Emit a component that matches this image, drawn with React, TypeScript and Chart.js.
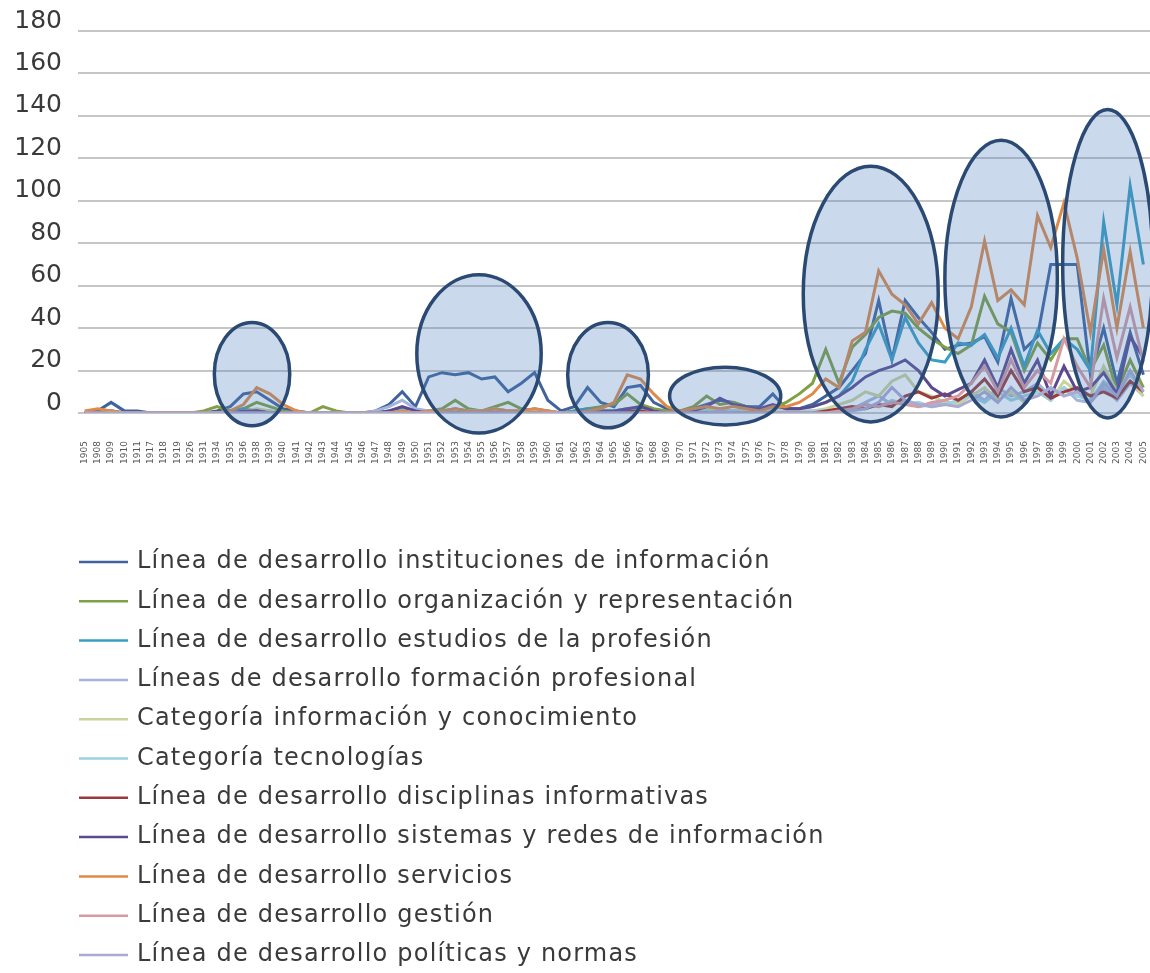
import React, { useEffect, useRef } from "react";
import { Chart, registerables } from "chart.js";

Chart.register(...registerables);

const years = [
  "1905", "1908", "1909", "1910", "1911", "1917", "1918", "1919", "1926", "1931",
  "1934", "1935", "1936", "1938", "1939", "1940", "1941", "1942", "1943", "1944",
  "1945", "1946", "1947", "1948", "1949", "1950", "1951", "1952", "1953", "1954",
  "1955", "1956", "1957", "1958", "1959", "1960", "1961", "1962", "1963", "1964",
  "1965", "1966", "1967", "1968", "1969", "1970", "1971", "1972", "1973", "1974",
  "1975", "1976", "1977", "1978", "1979", "1980", "1981", "1982", "1983", "1984",
  "1985", "1986", "1987", "1988", "1989", "1990", "1991", "1992", "1993", "1994",
  "1995", "1996", "1997", "1998", "1999", "2000", "2001", "2002", "2003", "2004",
  "2005",
];

const instituciones = [
  0, 1, 5, 1, 1, 0, 0, 0, 0, 0,
  1, 3, 9, 10, 6, 2, 1, 0, 0, 0,
  0, 0, 1, 4, 10, 3, 17, 19, 18, 19,
  16, 17, 10, 14, 19, 6, 1, 3, 12, 5,
  3, 12, 13, 5, 2, 1, 2, 4, 6, 5,
  3, 3, 9, 2, 2, 4, 8, 12, 20, 28,
  53, 25, 53, 45, 38, 30, 32, 33, 36, 24,
  54, 30, 36, 70, 70, 70, 18, 40, 14, 38,
  18,
];

const organizacion = [
  0, 0, 1, 0, 0, 0, 0, 0, 0, 1,
  3, 1, 2, 5, 3, 1, 0, 0, 3, 1,
  0, 0, 0, 1, 2, 1, 1, 2, 6, 2,
  1, 3, 5, 2, 1, 1, 0, 1, 2, 3,
  4, 9, 4, 2, 1, 1, 3, 8, 4, 5,
  3, 2, 2, 5, 9, 14, 30, 14, 31, 37,
  45, 48, 47, 40, 35, 31, 28, 32, 55, 42,
  38, 20, 33, 25, 35, 35, 20, 32, 10, 25,
  12,
];

const estudios = [
  0, 0, 1, 0, 0, 0, 0, 0, 0, 0,
  0, 1, 2, 1, 1, 0, 0, 0, 0, 0,
  0, 0, 0, 1, 2, 1, 1, 1, 2, 1,
  1, 2, 1, 1, 2, 1, 0, 1, 2, 1,
  1, 2, 2, 1, 0, 1, 1, 2, 2, 1,
  1, 1, 2, 2, 2, 3, 5, 8, 15, 30,
  42, 25, 45, 33, 25, 24, 33, 32, 37, 26,
  40, 22, 39, 28, 35, 30, 20, 90, 51, 107,
  70,
];

const formacion = [
  0, 0, 0, 0, 0, 0, 0, 0, 0, 0,
  0, 0, 1, 1, 0, 0, 0, 0, 0, 0,
  0, 0, 1, 3, 6, 2, 1, 1, 1, 1,
  1, 1, 1, 1, 1, 1, 0, 0, 1, 1,
  1, 1, 1, 0, 0, 0, 1, 1, 2, 1,
  1, 1, 2, 1, 1, 1, 1, 1, 2, 5,
  8, 4, 6, 3, 4, 5, 5, 10, 6, 12,
  8, 10, 14, 8, 12, 6, 5, 12, 6, 14,
  8,
];

const informacion = [
  0, 0, 0, 0, 0, 0, 0, 0, 0, 0,
  0, 0, 1, 2, 1, 0, 0, 0, 0, 0,
  0, 0, 0, 0, 1, 0, 0, 0, 1, 1,
  1, 2, 1, 1, 1, 0, 0, 0, 1, 1,
  1, 2, 1, 1, 0, 0, 1, 2, 1, 1,
  1, 1, 1, 1, 1, 1, 2, 4, 6, 10,
  8, 15, 18, 10, 8, 5, 4, 8, 12, 6,
  10, 5, 10, 6, 15, 10, 8, 22, 10, 15,
  8,
];

const tecnologias = [
  0, 0, 0, 0, 0, 0, 0, 0, 0, 0,
  0, 0, 0, 0, 0, 0, 0, 0, 0, 0,
  0, 0, 0, 0, 1, 0, 0, 0, 0, 0,
  0, 0, 0, 0, 0, 0, 0, 0, 0, 0,
  0, 0, 0, 0, 0, 0, 0, 1, 0, 1,
  0, 0, 1, 1, 1, 1, 1, 1, 2, 4,
  3, 6, 4, 5, 3, 4, 6, 8, 5, 10,
  6, 8, 10, 6, 12, 8, 6, 15, 10, 18,
  10,
];

const disciplinas = [
  0, 0, 0, 0, 0, 0, 0, 0, 0, 0,
  0, 0, 0, 1, 0, 0, 0, 0, 0, 0,
  0, 0, 0, 0, 0, 0, 0, 0, 0, 0,
  0, 0, 0, 0, 0, 0, 0, 0, 0, 0,
  0, 1, 1, 0, 0, 0, 0, 0, 0, 0,
  0, 0, 0, 0, 0, 0, 1, 2, 3, 2,
  4, 3, 8, 10, 7, 9, 6, 10, 16, 8,
  20, 10, 12, 7, 10, 12, 8, 10, 7, 15,
  10,
];

const sistemas = [
  0, 0, 0, 0, 0, 0, 0, 0, 0, 0,
  0, 0, 1, 1, 0, 0, 0, 0, 0, 0,
  0, 0, 0, 1, 3, 1, 0, 0, 0, 0,
  0, 0, 0, 0, 0, 0, 0, 0, 1, 1,
  1, 2, 3, 1, 0, 0, 1, 3, 7, 4,
  3, 2, 4, 2, 2, 3, 5, 8, 12, 17,
  20, 22, 25, 20, 12, 8, 11, 14, 25, 12,
  30, 14, 25, 8, 22, 10, 12, 19, 9, 36,
  26,
];

const servicios = [
  1, 2, 1, 0, 0, 0, 0, 0, 0, 0,
  0, 1, 4, 12, 9, 4, 1, 0, 0, 0,
  0, 0, 0, 0, 1, 0, 1, 1, 2, 1,
  1, 2, 1, 1, 2, 1, 0, 0, 1, 2,
  5, 18, 16, 9, 3, 1, 2, 3, 2, 3,
  2, 1, 3, 3, 5, 9, 16, 12, 34, 38,
  67, 56, 51, 42, 52, 40, 35, 50, 81, 53,
  58, 51, 93, 78, 99, 73, 38, 77, 40, 76,
  40,
];

const gestion = [
  0, 0, 0, 0, 0, 0, 0, 0, 0, 0,
  0, 0, 0, 0, 0, 0, 0, 0, 0, 0,
  0, 0, 0, 0, 0, 0, 0, 0, 0, 0,
  0, 0, 0, 0, 0, 0, 0, 0, 0, 0,
  0, 0, 0, 0, 0, 0, 0, 0, 0, 0,
  0, 0, 0, 0, 0, 0, 0, 1, 2, 4,
  3, 5, 4, 3, 5, 6, 8, 14, 22, 10,
  25, 12, 20, 14, 35, 22, 12, 54, 26, 50,
  24,
];

const politicas = [
  0, 0, 0, 0, 0, 0, 0, 0, 0, 0,
  0, 0, 0, 0, 0, 0, 0, 0, 0, 0,
  0, 0, 0, 0, 0, 0, 0, 0, 0, 0,
  0, 0, 0, 0, 0, 0, 0, 0, 0, 0,
  0, 0, 0, 0, 0, 0, 0, 0, 1, 0,
  0, 0, 0, 0, 0, 0, 0, 0, 1, 2,
  5, 12, 6, 4, 3, 4, 3, 6, 10, 5,
  12, 6, 8, 12, 8, 10, 5, 14, 8, 20,
  10,
];

const seriesLabels = [
  "Línea de desarrollo instituciones de información",
  "Línea de desarrollo organización y representación",
  "Línea de desarrollo estudios de la profesión",
  "Líneas de desarrollo formación profesional",
  "Categoría información y conocimiento",
  "Categoría tecnologías",
  "Línea de desarrollo disciplinas informativas",
  "Línea de desarrollo sistemas y redes de información",
  "Línea de desarrollo servicios",
  "Línea de desarrollo gestión",
  "Línea de desarrollo políticas y normas",
];

const seriesValues = [
  instituciones, organizacion, estudios, formacion, informacion, tecnologias,
  disciplinas, sistemas, servicios, gestion, politicas,
];

const seriesColors = [
  "#40639e", "#7fa043", "#3a9dc2", "#a3b5dc", "#c9d49c", "#9dd0de",
  "#9a3b3d", "#5b4a8f", "#e08a47", "#d59ba2", "#a9aad3",
];

// highlighted periods (category index range, value range)
const highlightFrom = [9.8, 25.1, 36.5, 44.2, 54.3, 65.0, 73.9];
const highlightTo = [15.5, 34.5, 42.6, 52.6, 64.5, 73.5, 80.7];
const highlightLow = [-6, -9.4, -7, -5.6, -4.2, -1.9, -2.3];
const highlightHigh = [42.7, 65.2, 42.7, 21.6, 116.3, 128.5, 143];

const yTicks = [0, 20, 40, 60, 80, 100, 120, 140, 160, 180];

const W = 1150;
const H = 973;

const ellipsePlugin = {
  id: "highlights",
  afterDatasetsDraw(chart: any) {
    const { ctx, scales } = chart;
    const xs = scales.x;
    const ys = scales.y;
    ctx.save();
    for (let i = 0; i < highlightFrom.length; i++) {
      const x1 = xs.getPixelForValue(highlightFrom[i]);
      const x2 = xs.getPixelForValue(highlightTo[i]);
      const y1 = ys.getPixelForValue(highlightHigh[i]);
      const y2 = ys.getPixelForValue(highlightLow[i]);
      ctx.beginPath();
      ctx.ellipse((x1 + x2) / 2, (y1 + y2) / 2, Math.abs(x2 - x1) / 2, Math.abs(y2 - y1) / 2, 0, 0, Math.PI * 2);
      ctx.fillStyle = "rgba(79,129,189,0.30)";
      ctx.fill();
      ctx.lineWidth = 3.5;
      ctx.strokeStyle = "#2b4a73";
      ctx.stroke();
    }
    ctx.restore();
  },
};

const legendPlugin = {
  id: "listLegend",
  afterDraw(chart: any) {
    const { ctx } = chart;
    const top = 562;
    const step = 39.3;
    ctx.save();
    ctx.font = "24px 'DejaVu Sans'";
    (ctx as any).letterSpacing = "1.2px";
    ctx.textBaseline = "middle";
    ctx.textAlign = "left";
    seriesLabels.forEach((label, i) => {
      const y = top + i * step;
      ctx.beginPath();
      ctx.moveTo(79, y);
      ctx.lineTo(128, y);
      ctx.lineWidth = 2.5;
      ctx.strokeStyle = seriesColors[i];
      ctx.stroke();
      ctx.fillStyle = "#3a3a3a";
      ctx.fillText(label, 137, y);
    });
    ctx.restore();
  },
};

export default function App() {
  const ref = useRef<HTMLCanvasElement | null>(null);

  useEffect(() => {
    if (!ref.current) return;
    const chart = new Chart(ref.current, {
      type: "line",
      data: {
        labels: years,
        datasets: seriesValues.map((vals, i) => ({
          label: seriesLabels[i],
          data: vals,
          borderColor: seriesColors[i],
          backgroundColor: seriesColors[i],
          borderWidth: 3,
          pointRadius: 0,
          tension: 0,
          fill: false,
          order: -i,
        })),
      },
      options: {
        responsive: false,
        animation: false,
        layout: { padding: { top: 29, left: 0, right: 0, bottom: 0 } },
        plugins: {
          legend: { display: false },
          tooltip: { enabled: false },
        },
        scales: {
          x: {
            offset: true,
            grid: { display: false },
            border: { display: false },
            ticks: {
              autoSkip: false,
              maxRotation: 90,
              minRotation: 90,
              padding: 20,
              color: "#555",
              font: { family: "'DejaVu Sans'", size: 9 },
            },
            afterFit: (s: any) => {
              s.height = H - 413;
              s.paddingLeft = 0;
              s.paddingRight = 0;
            },
          },
          y: {
            min: 0,
            max: 180,
            afterBuildTicks: (s: any) => {
              s.ticks = yTicks.map((v) => ({ value: v }));
            },
            ticks: {
              padding: 16,
              labelOffset: -10,
              color: "#3a3a3a",
              font: { family: "'DejaVu Sans'", size: 25 },
            },
            grid: { color: "#c6c6c6", lineWidth: 2, drawTicks: false },
            border: { display: false },
            afterFit: (s: any) => {
              s.width = 78;
            },
          },
        },
      },
      plugins: [ellipsePlugin, legendPlugin],
    });
    return () => chart.destroy();
  }, []);

  return (
    <div style={{ position: "absolute", left: 0, top: 0, width: W, height: H, background: "#fff" }}>
      <canvas ref={ref} width={W} height={H} style={{ width: W, height: H, display: "block" }} />
    </div>
  );
}
